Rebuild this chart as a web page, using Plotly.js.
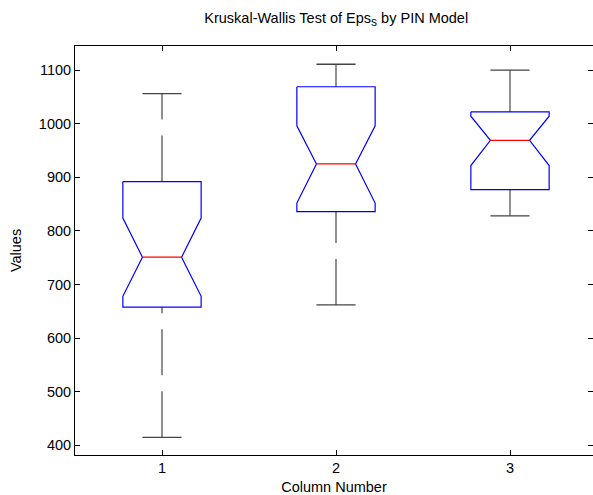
<!DOCTYPE html>
<html>
<head>
<meta charset="utf-8">
<script src="https://cdn.plot.ly/plotly-3.0.1.min.js"></script>
<style>
html, body { margin: 0; padding: 0; overflow: hidden; background: #fff; }
#chart { width: 593px; height: 495px; }
</style>
</head>
<body>
<div id="chart"></div>
<script>
// Data (notched boxplot, MATLAB style)
var groups = [1, 2, 3];
var tickLabels = ['1', '2', '3'];
var yTicks = [400, 500, 600, 700, 800, 900, 1000, 1100];
var upperWhisker = [1056, 1111, 1100];
var q3Values = [892, 1069, 1022];
var notchHigh = [824, 996, 1014];
var medians = [751, 925, 969];
var notchLow = [678, 852, 922];
var q1Values = [658, 836, 877];
var lowerWhisker = [415, 662, 828];

var halfWidth = 0.225;   // box half-width in x units
var capHalf = halfWidth / 2;
var traces = [];

for (var i = 0; i < groups.length; i++) {
  var c = groups[i], w = halfWidth, n = halfWidth / 2;
  // whiskers (dashed)
  traces.push({
    type: 'scatter', mode: 'lines', hoverinfo: 'skip', showlegend: false,
    x: [c, c], y: [q3Values[i], upperWhisker[i]],
    line: {color: '#555555', width: 1.3, dash: '46px,16px'}
  });
  traces.push({
    type: 'scatter', mode: 'lines', hoverinfo: 'skip', showlegend: false,
    x: [c, c], y: [lowerWhisker[i], q1Values[i]],
    line: {color: '#555555', width: 1.3, dash: '46px,16px'}
  });
  // caps
  traces.push({
    type: 'scatter', mode: 'lines', hoverinfo: 'skip', showlegend: false,
    x: [c - capHalf, c + capHalf, null, c - capHalf, c + capHalf],
    y: [upperWhisker[i], upperWhisker[i], null, lowerWhisker[i], lowerWhisker[i]],
    line: {color: '#444444', width: 1.3}
  });
  // notched box
  traces.push({
    type: 'scatter', mode: 'lines', hoverinfo: 'skip', showlegend: false,
    x: [c - w, c + w, c + w, c + n, c + w, c + w, c - w, c - w, c - n, c - w, c - w],
    y: [q3Values[i], q3Values[i], notchHigh[i], medians[i], notchLow[i], q1Values[i],
        q1Values[i], notchLow[i], medians[i], notchHigh[i], q3Values[i]],
    line: {color: '#0000ff', width: 1.2}
  });
  // median
  traces.push({
    type: 'scatter', mode: 'lines', hoverinfo: 'skip', showlegend: false,
    x: [c - n, c + n], y: [medians[i], medians[i]],
    line: {color: '#ff0000', width: 1.2}
  });
}

var fontFam = '"Liberation Sans", Arial, Helvetica, sans-serif';
var fs = 14.5;
var yRange = [382, 1145];
var layout = {
  width: 593, height: 495,
  margin: {l: 75, r: 0, t: 46, b: 40},
  paper_bgcolor: '#ffffff', plot_bgcolor: '#ffffff',
  font: {family: fontFam, size: fs, color: '#000000'},
  title: {
    text: 'Kruskal-Wallis Test of Eps<sub><span style="font-size:12px">s</span></sub> by PIN Model',
    font: {family: fontFam, size: fs, color: '#000000'},
    x: 0.567, xanchor: 'center', y: 0.964, yanchor: 'middle'
  },
  xaxis: {
    range: [0.5, 0.5 + 518 / 174], tickvals: groups, ticktext: tickLabels,
    showgrid: false, zeroline: false,
    showline: true, linecolor: '#000000', linewidth: 1, mirror: 'ticks',
    ticks: 'inside', ticklen: 5, tickcolor: '#000000',
    title: {text: 'Column Number', font: {family: fontFam, size: fs}, standoff: 8},
    tickfont: {family: fontFam, size: fs}
  },
  yaxis: {
    range: yRange, tickvals: yTicks,
    showgrid: false, zeroline: false,
    showline: true, linecolor: '#000000', linewidth: 1, mirror: false,
    ticks: 'inside', ticklen: 5, tickcolor: '#000000',
    title: {text: 'Values', font: {family: fontFam, size: fs}, standoff: 13},
    tickfont: {family: fontFam, size: fs}
  },
  yaxis2: {
    overlaying: 'y', side: 'right', range: yRange, tickvals: yTicks,
    showgrid: false, zeroline: false, showline: false, showticklabels: false,
    ticks: 'inside', ticklen: 5, tickcolor: '#000000'
  }
};

// dummy invisible trace to activate the right-side tick axis
traces.push({type: 'scatter', mode: 'lines', x: [1], y: [yRange[0]], yaxis: 'y2',
  hoverinfo: 'skip', showlegend: false, line: {color: 'rgba(0,0,0,0)'}});

Plotly.newPlot('chart', traces, layout, {displayModeBar: false, staticPlot: true});
</script>
</body>
</html>
